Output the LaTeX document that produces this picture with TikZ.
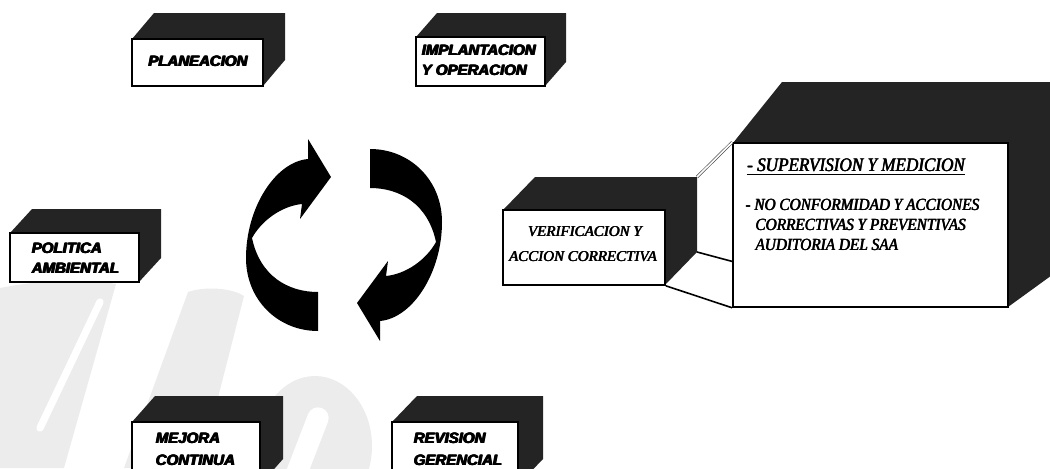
\documentclass[tikz,border=0pt]{standalone}
\usepackage{fontspec}
\usetikzlibrary{fit,calc}
\newfontfamily\sanslab{Liberation Sans}
\newfontfamily\serifcond{Liberation Serif}[FakeStretch=0.9]
\newfontfamily\serifit{Liberation Serif}
\newcommand\heavy[1]{\leavevmode\rlap{#1}\rlap{\kern0.3pt#1}\rlap{\kern0.6pt#1}\kern0.9pt#1}
\newcommand\semi[1]{\leavevmode\rlap{#1}\rlap{\kern0.25pt#1}\kern0.5pt#1}
\definecolor{wm}{gray}{0.925}
\tikzset{
  face/.style={fill=black!86},
  frontbox/.style={draw=black, fill=white, line width=1.2pt, inner sep=0pt},
  slab/.style={font=\sanslab\bfseries\itshape\fontsize{11.25}{13}\selectfont, inner sep=0pt, anchor=base west},
  vlab/.style={font=\serifit\itshape\fontsize{11.25}{13}\selectfont, inner sep=0pt, anchor=base},
  blab/.style={font=\serifcond\itshape\fontsize{12.75}{15}\selectfont, inner sep=0pt, anchor=base west},
  conn/.style={draw=black, line width=1.2pt},
  dbl/.style={draw=black!70, double=white, double distance=1.2pt, line width=0.5pt},
}
\newcommand\boxcube[7]{%
  \fill[face] (#2,#3) -- ({#2+#6},{#3-#7}) -- ({#4+#6},{#3-#7}) -- ({#4+#6},{#5-#7}) -- (#4,#5) -- (#4,#3) -- cycle;
  \node[frontbox, fit={(#2,#3) (#4,#5)}] (#1) {};
  \coordinate (#1-btr) at ({#4+#6},{#3-#7});
  \coordinate (#1-bbr) at ({#4+#6},{#5-#7});
}
\newcommand\ribbonpath{(318,331) .. controls (278,331) and (246,300) .. (246,258)
  .. controls (246,208) and (275,162) .. (308,159) -- (308,139) -- (331,177) -- (300,219) -- (302,204)
  .. controls (282,206) and (262,220) .. (252,238)
  .. controls (260,276) and (288,292) .. (318,292) -- cycle}
\begin{document}
\begin{tikzpicture}[x=0.75pt, y=-0.75pt]
\useasboundingbox (0,0) rectangle (1050,468);
\clip (0,0) rectangle (1050,468);
% watermark
\fill[wm] (0,288) .. controls (40,280) and (90,278) .. (116,284) -- (64,468) -- (0,468) -- cycle;
\draw[white, line width=5.5pt, line cap=round] (100,302) -- (40,428);
\fill[wm] (188,292) .. controls (205,286) and (232,288) .. (244,296) -- (200,468) -- (124,468) -- cycle;
\fill[wm] (315,446) ellipse [x radius=57, y radius=70];
\draw[white, line width=16pt, line cap=round] (318,418) -- (296,475);
% cycle arrows
\fill[black] \ribbonpath;
\begin{scope}[rotate around={180:(344,240)}]
  \fill[black] \ribbonpath;
\end{scope}
% boxes
\boxcube{plan}{132}{39}{263}{86}{22}{26}
\boxcube{impl}{416}{37}{545}{86}{21}{24}
\boxcube{pol}{10}{233}{139}{282}{22}{24}
\boxcube{mej}{132}{422}{260}{485}{23}{26}
\boxcube{rev}{392}{422}{518}{485}{25}{26}
\boxcube{ver}{503}{210}{665}{285}{32}{33}
% big box
\fill[face] (733,143) -- (782,82) -- (1070,82) -- (1070,262) -- (1008,307) -- (1008,143) -- cycle;
\node[frontbox, fit={(733,143) (1008,307)}] (big) {};
\coordinate (bigmid) at ($(big.north west)!0.72!(big.south west)$);
% connectors
\draw[dbl] (ver-btr) -- (big.north west);
\draw[conn] (ver-bbr) -- (bigmid);
\draw[conn] (ver.south east) -- (big.south west);
% labels
\node[slab, anchor=base] (tplan) at (198,66.7) {\heavy{PLANEACION}};
\node[slab] (timpl1) at (421,55) {\heavy{IMPLANTACION}};
\node[slab] (timpl2) at (421,75) {\heavy{Y OPERACION}};
\node[slab] (tpol1) at (31,253.3) {\heavy{POLITICA}};
\node[slab] (tpol2) at (31,273.3) {\heavy{AMBIENTAL}};
\node[slab] (tmej1) at (155,443) {\heavy{MEJORA}};
\node[slab] (tmej2) at (155,465) {\heavy{CONTINUA}};
\node[slab] (trev1) at (413,443) {\heavy{REVISION}};
\node[slab] (trev2) at (413,465) {\heavy{GERENCIAL}};
\node[vlab] (tver1) at (585,236.7) {\semi{VERIFICACION Y}};
\node[vlab] (tver2) at (583,261.7) {\semi{ACCION CORRECTIVA}};
\node[blab, font=\serifcond\itshape\fontsize{14.25}{16}\selectfont] (tb1) at (746.7,171.7) {\underline{\semi{- SUPERVISION Y MEDICION}}};
\node[blab] (tb2) at (745,210) {\semi{- NO CONFORMIDAD Y ACCIONES}};
\node[blab] (tb3) at (755,230) {\semi{CORRECTIVAS Y PREVENTIVAS}};
\node[blab] (tb4) at (755,250) {\semi{AUDITORIA DEL SAA}};
\end{tikzpicture}
\end{document}
